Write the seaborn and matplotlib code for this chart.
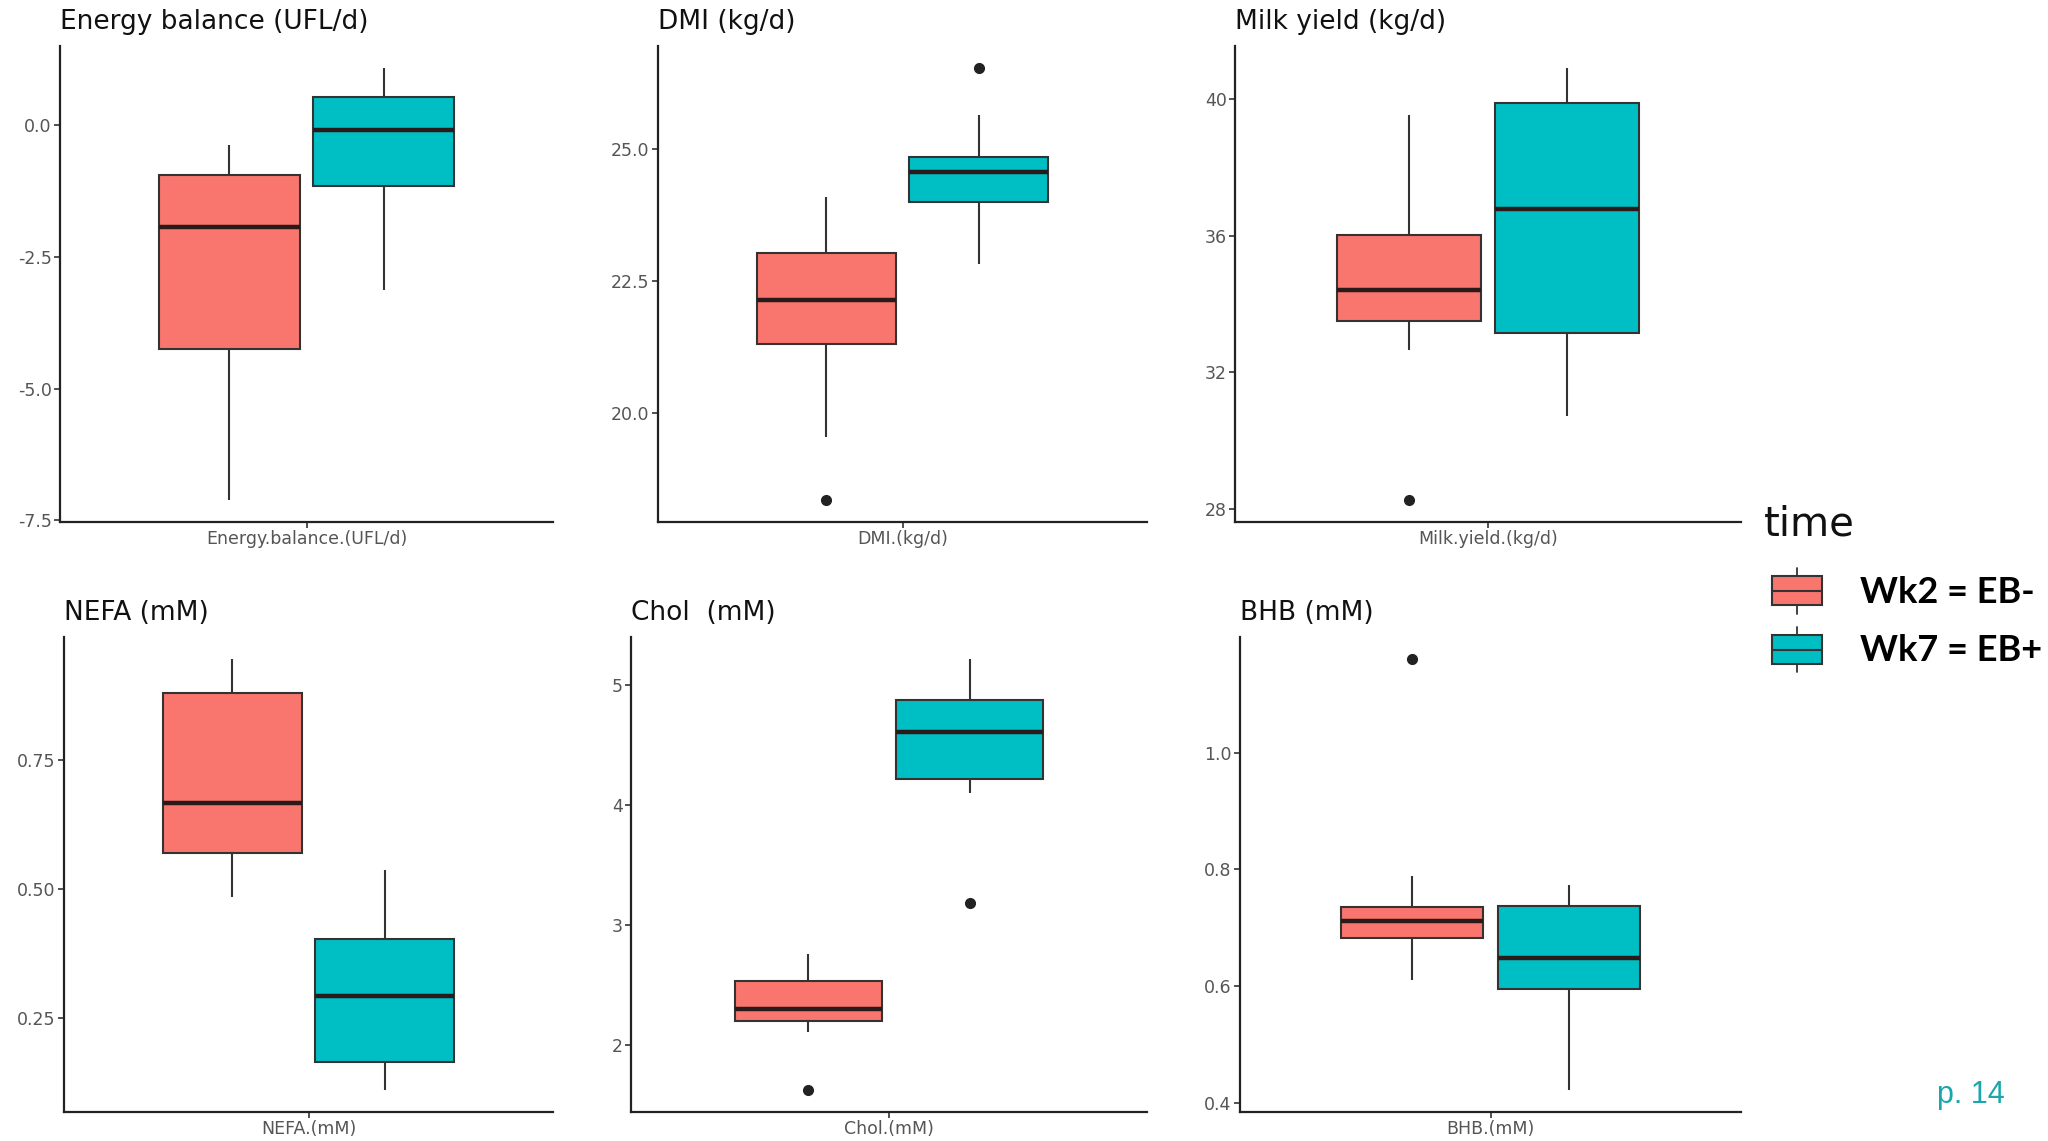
import numpy as np
import pandas as pd
import matplotlib
matplotlib.use("Agg")
import matplotlib.pyplot as plt
import seaborn as sns
from matplotlib.ticker import FixedLocator, FixedFormatter
from matplotlib.patches import Rectangle, Patch
from matplotlib.lines import Line2D
from matplotlib.legend_handler import HandlerBase

# ---------------- data ----------------
groups = ["Wk2 = EB-", "Wk7 = EB+"]
palette = ["#F8766D", "#00BFC4"]

variables = ["Energy.balance.(UFL/d)", "DMI.(kg/d)", "Milk.yield.(kg/d)",
             "NEFA.(mM)", "Chol.(mM)", "BHB.(mM)"]
titles = ["Energy balance (UFL/d)", "DMI (kg/d)", "Milk yield (kg/d)",
          "NEFA (mM)", "Chol  (mM)", "BHB (mM)"]

energy_wk2 = [-7.12, -5.6, -4.24, -2.8, -1.94, -1.4, -0.95, -0.7, -0.38]
energy_wk7 = [-3.12, -1.9, -1.15, -0.5, -0.09, 0.2, 0.53, 0.8, 1.09]
dmi_wk2 = [18.35, 19.55, 21.30, 21.8, 22.14, 22.6, 23.03, 23.5, 24.09]
dmi_wk7 = [22.82, 23.5, 23.99, 24.3, 24.55, 24.7, 24.84, 25.64, 26.53]
milk_wk2 = [28.24, 32.65, 33.51, 34.0, 34.40, 35.2, 36.02, 37.8, 39.55]
milk_wk7 = [30.72, 32.1, 33.15, 35.0, 36.78, 38.5, 39.88, 40.4, 40.93]
nefa_wk2 = [0.485, 0.53, 0.571, 0.62, 0.667, 0.78, 0.882, 0.91, 0.948]
nefa_wk7 = [0.109, 0.14, 0.165, 0.23, 0.292, 0.35, 0.403, 0.47, 0.538]
chol_wk2 = [1.62, 2.105, 2.20, 2.25, 2.296, 2.42, 2.535, 2.64, 2.755]
chol_wk7 = [3.18, 4.10, 4.213, 4.4, 4.61, 4.75, 4.878, 5.05, 5.22]
bhb_wk2 = [0.610, 0.66, 0.683, 0.70, 0.712, 0.725, 0.735, 0.788, 1.161]
bhb_wk7 = [0.421, 0.52, 0.594, 0.62, 0.648, 0.70, 0.737, 0.755, 0.773]

series = [(energy_wk2, energy_wk7), (dmi_wk2, dmi_wk7), (milk_wk2, milk_wk7),
          (nefa_wk2, nefa_wk7), (chol_wk2, chol_wk7), (bhb_wk2, bhb_wk7)]

yticks = [[-7.5, -5.0, -2.5, 0.0], [20.0, 22.5, 25.0], [28, 32, 36, 40],
          [0.25, 0.50, 0.75], [2, 3, 4, 5], [0.4, 0.6, 0.8, 1.0]]
yticklabels = [["-7.5", "-5.0", "-2.5", "0.0"], ["20.0", "22.5", "25.0"],
               ["28", "32", "36", "40"], ["0.25", "0.50", "0.75"],
               ["2", "3", "4", "5"], ["0.4", "0.6", "0.8", "1.0"]]

legend_title = "time"
page_label = "p. 14"

# ---------------- style ----------------
sns.set_theme(style="ticks")
plt.rcParams["font.family"] = ["DejaVu Sans"]
plt.rcParams["axes.unicode_minus"] = False

W, H = 2048, 1141
fig = plt.figure(figsize=(W / 100, H / 100), dpi=100, facecolor="white")

# panel rectangles in pixels: (x_left, x_right, y_top, y_bottom)
panels_px = [(60, 553, 46, 522), (658, 1147, 46, 522), (1235, 1741, 46, 522),
             (64, 553, 637, 1112), (631, 1147, 637, 1112), (1240, 1741, 637, 1112)]

edge = "#333333"
for i, (var, title, (a, b), ticks, tlabels, px) in enumerate(
        zip(variables, titles, series, yticks, yticklabels, panels_px)):
    x0, x1, y0, y1 = px
    ax = fig.add_axes([x0 / W, 1 - y1 / H, (x1 - x0) / W, (y1 - y0) / H])
    df = pd.DataFrame({
        "var": [var] * (len(a) + len(b)),
        "time": [groups[0]] * len(a) + [groups[1]] * len(b),
        "value": list(a) + list(b),
    })
    sns.boxplot(data=df, x="var", y="value", hue="time", hue_order=groups,
                palette=palette, saturation=1, width=0.75, gap=0.09,
                linecolor=edge, linewidth=1.5, fliersize=7, showcaps=False,
                flierprops={"marker": "o", "markerfacecolor": "#222222",
                            "markeredgecolor": "#222222"},
                medianprops={"linewidth": 3.2, "color": "#2a1a1a"},
                legend=False, ax=ax)
    ax.set_xlim(-0.6, 0.6)
    ax.yaxis.set_major_locator(FixedLocator(ticks))
    ax.yaxis.set_major_formatter(FixedFormatter(tlabels))
    ax.set_xlabel("")
    ax.set_ylabel("")
    sns.despine(ax=ax)
    for s in ["left", "bottom"]:
        ax.spines[s].set_linewidth(1.6)
        ax.spines[s].set_color("#222222")
    ax.tick_params(axis="both", length=4, width=1.2, color="#333333",
                   labelsize=12.5, labelcolor="#555555", pad=2)
    ax.set_title(title, loc="left", fontsize=19, pad=12, color="#111111")


# ---------------- legend ----------------
class BoxKeyHandler(HandlerBase):
    def create_artists(self, legend, orig_handle, xdescent, ydescent,
                       width, height, fontsize, trans):
        x0, y0 = -xdescent, -ydescent
        fc = orig_handle.get_facecolor()
        bh = height * 0.63
        by = y0 + (height - bh) / 2
        rect = Rectangle((x0, by), width, bh, facecolor=fc, edgecolor=edge,
                         lw=1.5, transform=trans)
        med = Line2D([x0, x0 + width], [y0 + height / 2] * 2, color=edge,
                     lw=1.5, transform=trans)
        w1 = Line2D([x0 + width / 2] * 2, [y0, by], color=edge, lw=1.3,
                    transform=trans)
        w2 = Line2D([x0 + width / 2] * 2, [by + bh, y0 + height], color=edge,
                    lw=1.3, transform=trans)
        return [rect, med, w1, w2]


fig.text(1764 / W, 1 - 524 / H, legend_title, fontsize=29, color="#111111",
         ha="left", va="center")

handles = [Patch(facecolor=c) for c in palette]
leg = fig.legend(handles, groups, loc="upper left",
                 bbox_to_anchor=(1772 / W, 1 - 568 / H), frameon=False,
                 handler_map={Patch: BoxKeyHandler()},
                 prop={"family": ["Lato", "DejaVu Sans"], "weight": "bold", "size": 26},
                 labelcolor="black",
                 handlelength=1.38, handleheight=1.57,
                 labelspacing=0.36, handletextpad=1.05, borderpad=0,
                 borderaxespad=0)

fig.text(1937 / W, 1 - 1095 / H, page_label, color="#1aa6ab", fontsize=22,
         va="center", ha="left", family=["Liberation Sans"])

fig.savefig("out.png", dpi=100, facecolor="white")
